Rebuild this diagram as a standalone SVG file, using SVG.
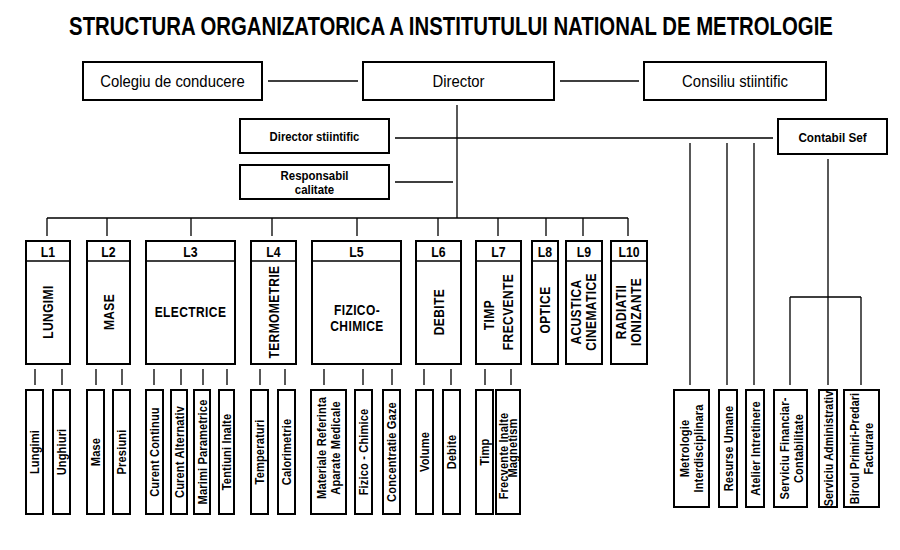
<svg xmlns="http://www.w3.org/2000/svg" width="900" height="550" viewBox="0 0 900 550">
<style>
text{font-family:"Liberation Sans",Arial,sans-serif;fill:#000;text-anchor:middle}
.bx{fill:#fff;stroke:#000;stroke-width:2}
.dv{stroke:#000;stroke-width:1.5}
.ln{stroke:#000;stroke-width:1.3;fill:none}
.top{font-size:16px}
.mid{font-size:13px;font-weight:bold}
.hd{font-size:15px;font-weight:bold}
.lab{font-size:15px;font-weight:bold;letter-spacing:0.5px}
.sub{font-size:13px;font-weight:bold;letter-spacing:0.2px}
</style>
<rect width="900" height="550" fill="#fff"/>
<text transform="translate(451,35) scale(0.814,1)" font-size="25" font-weight="bold">STRUCTURA ORGANIZATORICA A INSTITUTULUI NATIONAL DE METROLOGIE</text>

<g id="connectors">
<path class="ln" d="M268 81H358M560 81H639M457 105V218M395 138H773M395 182H453M47 218H628"/>
<path class="ln" d="M47 218V236M107 218V236M191 218V236M272 218V236M357 218V236M438 218V236M498 218V236M546 218V236M583 218V236M628 218V236"/>
<path class="ln" d="M35 369V385M62 369V385M96 369V385M122 369V385M154 369V385M181 369V385M203 369V385M227 369V385M260 369V385M285 369V385M324 369V385M363 369V385M392 369V385M424 369V385M451 369V385M485 369V385M511 369V385"/>
<path class="ln" d="M690 143V385M727 143V385M754 143V385M828 159V385M790 297H861M790 297V385M861 297V385"/>
</g>

<g id="colegiu"><rect class="bx" x="83" y="62" width="179" height="38"/><text class="top" transform="translate(172.5,87) scale(0.93,1)">Colegiu de conducere</text></g>
<g id="director"><rect class="bx" x="363" y="62" width="191" height="38"/><text class="top" transform="translate(458.5,87) scale(0.93,1)">Director</text></g>
<g id="consiliu"><rect class="bx" x="644" y="62" width="182" height="38"/><text class="top" transform="translate(735,87) scale(0.93,1)">Consiliu stiintific</text></g>
<g id="director-stiintific"><rect class="bx" x="240" y="119" width="149" height="34"/><text class="mid" transform="translate(314.5,141) scale(0.87,1)">Director stiintific</text></g>
<g id="contabil-sef"><rect class="bx" x="778" y="119" width="109" height="35"/><text class="mid" transform="translate(832.5,141.5) scale(0.9,1)">Contabil Sef</text></g>
<g id="responsabil-calitate"><rect class="bx" x="240" y="165" width="149" height="34"/><text class="mid" transform="translate(314.5,180) scale(0.88,1)">Responsabil</text><text class="mid" transform="translate(314.5,194) scale(0.88,1)">calitate</text></g>

<g id="L1"><rect class="bx" x="26" y="241" width="44" height="123"/><line class="dv" x1="26" y1="261" x2="70" y2="261"/><text class="hd" transform="translate(48,256.5) scale(0.82,1)">L1</text><text class="lab" dy="0.35em" transform="translate(48,312) rotate(-90) scale(0.8,1)">LUNGIMI</text></g>
<g id="L2"><rect class="bx" x="87" y="241" width="43" height="123"/><line class="dv" x1="87" y1="261" x2="130" y2="261"/><text class="hd" transform="translate(108.5,256.5) scale(0.82,1)">L2</text><text class="lab" dy="0.35em" transform="translate(108.5,312) rotate(-90) scale(0.8,1)">MASE</text></g>
<g id="L3"><rect class="bx" x="146" y="241" width="89" height="123"/><line class="dv" x1="146" y1="261" x2="235" y2="261"/><text class="hd" transform="translate(190.5,256.5) scale(0.82,1)">L3</text><text class="lab" transform="translate(190.5,316.5) scale(0.8,1)">ELECTRICE</text></g>
<g id="L4"><rect class="bx" x="251" y="241" width="45" height="123"/><line class="dv" x1="251" y1="261" x2="296" y2="261"/><text class="hd" transform="translate(273.5,256.5) scale(0.82,1)">L4</text><text class="lab" dy="0.35em" transform="translate(273.5,312) rotate(-90) scale(0.8,1)">TERMOMETRIE</text></g>
<g id="L5"><rect class="bx" x="312" y="241" width="89" height="123"/><line class="dv" x1="312" y1="261" x2="401" y2="261"/><text class="hd" transform="translate(356.5,256.5) scale(0.82,1)">L5</text><text class="lab" transform="translate(357,315) scale(0.8,1)">FIZICO-</text><text class="lab" transform="translate(357,330.5) scale(0.8,1)">CHIMICE</text></g>
<g id="L6"><rect class="bx" x="416" y="241" width="45" height="123"/><line class="dv" x1="416" y1="261" x2="461" y2="261"/><text class="hd" transform="translate(438.5,256.5) scale(0.82,1)">L6</text><text class="lab" dy="0.35em" transform="translate(438.5,312) rotate(-90) scale(0.8,1)">DEBITE</text></g>
<g id="L7"><rect class="bx" x="476" y="241" width="45" height="123"/><line class="dv" x1="476" y1="261" x2="521" y2="261"/><text class="hd" transform="translate(498.5,256.5) scale(0.82,1)">L7</text><text class="lab" dy="0.35em" transform="translate(489,315) rotate(-90) scale(0.8,1)">TIMP</text><text class="lab" dy="0.35em" transform="translate(508,312) rotate(-90) scale(0.8,1)">FRECVENTE</text></g>
<g id="L8"><rect class="bx" x="532" y="241" width="26" height="123"/><line class="dv" x1="532" y1="261" x2="558" y2="261"/><text class="hd" transform="translate(545,256.5) scale(0.82,1)">L8</text><text class="lab" dy="0.35em" transform="translate(545,310) rotate(-90) scale(0.8,1)">OPTICE</text></g>
<g id="L9"><rect class="bx" x="566" y="241" width="36" height="123"/><line class="dv" x1="566" y1="261" x2="602" y2="261"/><text class="hd" transform="translate(584,256.5) scale(0.82,1)">L9</text><text class="lab" dy="0.35em" transform="translate(576,312) rotate(-90) scale(0.8,1)">ACUSTICA</text><text class="lab" dy="0.35em" transform="translate(591,312) rotate(-90) scale(0.8,1)">CINEMATICE</text></g>
<g id="L10"><rect class="bx" x="611" y="241" width="36" height="123"/><line class="dv" x1="611" y1="261" x2="647" y2="261"/><text class="hd" transform="translate(629,256.5) scale(0.82,1)">L10</text><text class="lab" dy="0.35em" transform="translate(621,312) rotate(-90) scale(0.8,1)">RADIATII</text><text class="lab" dy="0.35em" transform="translate(636,312) rotate(-90) scale(0.8,1)">IONIZANTE</text></g>

<g id="lungimi"><rect class="bx" x="26" y="390" width="17" height="124"/><text class="sub" dy="0.35em" transform="translate(34.5,452) rotate(-90) scale(0.85,1)">Lungimi</text></g>
<g id="unghiuri"><rect class="bx" x="53" y="390" width="17" height="124"/><text class="sub" dy="0.35em" transform="translate(61.5,452) rotate(-90) scale(0.85,1)">Unghiuri</text></g>
<g id="mase"><rect class="bx" x="87" y="390" width="17" height="124"/><text class="sub" dy="0.35em" transform="translate(95.5,452) rotate(-90) scale(0.85,1)">Mase</text></g>
<g id="presiuni"><rect class="bx" x="113" y="390" width="17" height="124"/><text class="sub" dy="0.35em" transform="translate(121.5,452) rotate(-90) scale(0.85,1)">Presiuni</text></g>
<g id="curent-continuu"><rect class="bx" x="146" y="390" width="17" height="124"/><text class="sub" dy="0.35em" transform="translate(154.5,452) rotate(-90) scale(0.85,1)">Curent Continuu</text></g>
<g id="curent-alternativ"><rect class="bx" x="171" y="390" width="16" height="124"/><text class="sub" dy="0.35em" transform="translate(179,452) rotate(-90) scale(0.85,1)">Curent Alternativ</text></g>
<g id="marimi-parametrice"><rect class="bx" x="194" y="390" width="16" height="124"/><text class="sub" dy="0.35em" transform="translate(202,452) rotate(-90) scale(0.85,1)">Marimi Parametrice</text></g>
<g id="tentiuni-inalte"><rect class="bx" x="219" y="390" width="15" height="124"/><text class="sub" dy="0.35em" transform="translate(226.5,452) rotate(-90) scale(0.85,1)">Tentiuni Inalte</text></g>
<g id="temperaturi"><rect class="bx" x="251" y="390" width="17" height="124"/><text class="sub" dy="0.35em" transform="translate(259.5,452) rotate(-90) scale(0.85,1)">Temperaturi</text></g>
<g id="calorimetrie"><rect class="bx" x="278" y="390" width="17" height="124"/><text class="sub" dy="0.35em" transform="translate(286.5,452) rotate(-90) scale(0.85,1)">Calorimetrie</text></g>
<g id="materiale"><rect class="bx" x="311" y="390" width="35" height="124"/><text class="sub" dy="0.35em" transform="translate(321,448) rotate(-90) scale(0.85,1)">Materiale Referinta</text><text class="sub" dy="0.35em" transform="translate(335,448) rotate(-90) scale(0.85,1)">Aparate Medicale</text></g>
<g id="fizico-chimice"><rect class="bx" x="355" y="390" width="17" height="124"/><text class="sub" dy="0.35em" transform="translate(363.5,452) rotate(-90) scale(0.85,1)">Fizico - Chimice</text></g>
<g id="concentratie-gaze"><rect class="bx" x="383" y="390" width="17" height="124"/><text class="sub" dy="0.35em" transform="translate(391.5,452) rotate(-90) scale(0.85,1)">Concentratie Gaze</text></g>
<g id="volume"><rect class="bx" x="416" y="390" width="17" height="124"/><text class="sub" dy="0.35em" transform="translate(424.5,452) rotate(-90) scale(0.85,1)">Volume</text></g>
<g id="debite"><rect class="bx" x="443" y="390" width="17" height="124"/><text class="sub" dy="0.35em" transform="translate(451.5,452) rotate(-90) scale(0.85,1)">Debite</text></g>
<g id="timp"><rect class="bx" x="476" y="390" width="17" height="124"/><text class="sub" dy="0.35em" transform="translate(484.5,452) rotate(-90) scale(0.85,1)">Timp</text></g>
<g id="frecvente"><rect class="bx" x="496" y="390" width="24" height="124"/><text class="sub" dy="0.35em" transform="translate(503,456) rotate(-90) scale(0.85,1)">Frecvente Inalte</text><text class="sub" dy="0.35em" transform="translate(512.5,448) rotate(-90) scale(0.85,1)">Magnetism</text></g>

<g id="metrologie"><rect class="bx" x="674" y="390" width="35" height="117"/><text class="sub" dy="0.35em" transform="translate(684,448.5) rotate(-90) scale(0.85,1)">Metrologie</text><text class="sub" dy="0.35em" transform="translate(698,448.5) rotate(-90) scale(0.85,1)">Interdisciplinara</text></g>
<g id="resurse-umane"><rect class="bx" x="719" y="390" width="18" height="117"/><text class="sub" dy="0.35em" transform="translate(728,448.5) rotate(-90) scale(0.85,1)">Resurse Umane</text></g>
<g id="atelier"><rect class="bx" x="746" y="390" width="18" height="117"/><text class="sub" dy="0.35em" transform="translate(755,448.5) rotate(-90) scale(0.85,1)">Atelier Intretinere</text></g>
<g id="serviciu-financiar"><rect class="bx" x="774" y="390" width="33" height="117"/><text class="sub" dy="0.35em" transform="translate(784,448.5) rotate(-90) scale(0.85,1)">Serviciu Financiar-</text><text class="sub" dy="0.35em" transform="translate(798,448.5) rotate(-90) scale(0.85,1)">Contabilitate</text></g>
<g id="serviciu-administrativ"><rect class="bx" x="819" y="390" width="18" height="117"/><text class="sub" dy="0.35em" transform="translate(828,448.5) rotate(-90) scale(0.82,1)">Serviciu Administrativ</text></g>
<g id="birou"><rect class="bx" x="844" y="390" width="35" height="117"/><text class="sub" dy="0.35em" transform="translate(854,448.5) rotate(-90) scale(0.82,1)">Biroul Primiri-Predari</text><text class="sub" dy="0.35em" transform="translate(868,448.5) rotate(-90) scale(0.85,1)">Facturare</text></g>
</svg>
